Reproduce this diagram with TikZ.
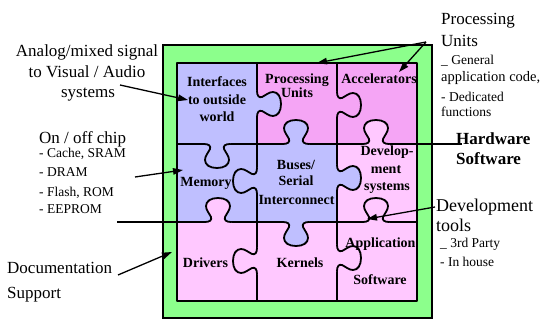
\documentclass[tikz,border=0pt]{standalone}
\usepackage{fontspec}
\setmainfont{Liberation Serif}
\usetikzlibrary{arrows.meta}
\definecolor{lav}{RGB}{191,191,255}
\definecolor{mag}{RGB}{245,165,245}
\definecolor{lpink}{RGB}{255,200,255}
\definecolor{grn}{RGB}{140,255,140}
\tikzset{
  gridline/.style={line width=1.8pt, line join=round},
  conn/.style={line width=1.3pt, -{Triangle[length=10pt,width=6.5pt]}},
  big/.style={inner sep=0pt, font=\fontsize{17}{20}\selectfont},
  bigger/.style={inner sep=0pt, font=\fontsize{18}{21}\selectfont},
  small/.style={inner sep=0pt, font=\fontsize{13.5}{16}\selectfont},
  bigbold/.style={inner sep=0pt, font=\fontsize{17}{20}\selectfont\bfseries},
  piece/.style={inner sep=0pt, anchor=base, font=\fontsize{14}{16}\selectfont\bfseries},
  pics/knob/.style={code={
    \fill[#1] (-13,-2) -- (-13,0) .. controls (-8,0) and (-6,2) .. (-7,5)
      .. controls (-9,9) and (-12,12) .. (-12,16)
      .. controls (-12,21) and (-7,24) .. (0,24)
      .. controls (7,24) and (12,21) .. (12,16)
      .. controls (12,12) and (9,9) .. (7,5)
      .. controls (6,2) and (8,0) .. (13,0) -- (13,-2) -- cycle;
    \draw[gridline] (-13,0) .. controls (-8,0) and (-6,2) .. (-7,5)
      .. controls (-9,9) and (-12,12) .. (-12,16)
      .. controls (-12,21) and (-7,24) .. (0,24)
      .. controls (7,24) and (12,21) .. (12,16)
      .. controls (12,12) and (9,9) .. (7,5)
      .. controls (6,2) and (8,0) .. (13,0);
  }}
}
\begin{document}
\begin{tikzpicture}[x=1pt,y=-1pt]
\useasboundingbox (0,0) rectangle (543,320);
% green board
\draw[fill=grn, line width=1.8pt] (163,45) rectangle (432,318);
% cells
\fill[lav] (177,63) rectangle (257,144);
\fill[mag] (257,63) rectangle (417,144);
\fill[lav] (177,144) rectangle (337,222);
\fill[lpink] (337,144) rectangle (417,222);
\fill[lpink] (177,222) rectangle (417,301);
% grid
\coordinate (hwL) at (117,222);
\coordinate (hwR) at (462,144);
\draw[gridline] (177,63) rectangle (417,301);
\draw[gridline] (257,63) -- (257,301);
\draw[gridline] (337,63) -- (337,301);
\draw[gridline] (hwL) -- (417,222);
\draw[gridline] (177,144) -- (hwR);
% knobs
\pic[rotate=90] at (257,104) {knob=lav};
\pic at (217,144) {knob=lav};
\pic[rotate=180] at (296,144) {knob=lav};
\pic[rotate=180] at (376,144) {knob=lpink};
\pic[rotate=90] at (337,105) {knob=mag};
\pic[rotate=-90] at (257,181) {knob=lav};
\pic[rotate=90] at (337,178) {knob=lav};
\pic[rotate=180] at (218,222) {knob=lpink};
\pic at (296,222) {knob=lav};
\pic[rotate=180] at (376,222) {knob=lpink};
\pic[rotate=-90] at (257,261) {knob=lpink};
\pic[rotate=90] at (337,258) {knob=lpink};
% piece labels
\node[piece] (p1a) at (217,87) {Interfaces};
\node[piece] (p1b) at (217,105) {to outside};
\node[piece] (p1c) at (217,122) {world};
\node[piece] (p2a) at (297,84) {Processing};
\node[piece] (p2b) at (297,98) {Units};
\node[piece] (p3) at (379,84) {Accelerators};
\node[piece] (p4) at (206,186.5) {Memory};
\node[piece] (p5a) at (296,169.5) {Buses/};
\node[piece] (p5b) at (296,186) {Serial};
\node[piece] (p5c) at (296.5,204.5) {Interconnect};
\node[piece] (p6a) at (387,156) {Develop-};
\node[piece] (p6b) at (386,174) {ment};
\node[piece] (p6c) at (387,191) {systems};
\node[piece] (p7) at (205.5,267.5) {Drivers};
\node[piece] (p8) at (300,267.5) {Kernels};
\node[piece] (p9a) at (380.5,247.5) {Application};
\node[piece] (p9b) at (380,284.5) {Software};
% left labels
\node[big, anchor=base] (an1) at (87,57) {Analog/mixed signal};
\node[big, anchor=base] (an2) at (87,78) {to Visual / Audio};
\node[big, anchor=base] (an3) at (88,98) {systems};
\node[big, anchor=base west] (mem0) at (39,144) {On / off chip};
\node[small, anchor=base west] (mem1) at (39,158) {- Cache, SRAM};
\node[small, anchor=base west] (mem2) at (39,177) {- DRAM};
\node[small, anchor=base west] (mem3) at (39,197) {- Flash, ROM};
\node[small, anchor=base west] (mem4) at (39,213.5) {- EEPROM};
\node[big, anchor=base west] (doc1) at (7,273.5) {Documentation};
\node[big, anchor=base west] (doc2) at (7,298) {Support};
% right labels
\node[big, anchor=base west] (pu1) at (441,25) {Processing};
\node[big, anchor=base west] (pu2) at (441,46.5) {Units};
\node[small, anchor=base west] (pu3) at (441,64.5) {\_ General};
\node[small, anchor=base west, font=\fontsize{14.5}{17}\selectfont] (pu4) at (441,82) {application code,};
\node[small, anchor=base west] (pu5) at (441,101.5) {- Dedicated};
\node[small, anchor=base west] (pu6) at (441,117) {functions};
\node[bigbold, anchor=base west] (hw) at (456,145) {Hardware};
\node[bigbold, anchor=base west] (sw) at (456,165) {Software};
\node[bigger, anchor=base west] (dt1) at (436,212) {Development};
\node[bigger, anchor=base west] (dt2) at (436,232) {tools};
\node[small, anchor=base west] (dt3) at (440,247.5) {\_ 3rd Party};
\node[small, anchor=base west] (dt4) at (440,266) {- In house};
% arrows
\coordinate (a1s) at (120,85);   \coordinate (a1e) at (188,100);
\coordinate (a2s) at (135,177);  \coordinate (a2e) at (183,170);
\coordinate (a3s) at (118,275);  \coordinate (a3e) at (172,252);
\coordinate (a4s) at (426,42);   \coordinate (a4e) at (317,63);
\coordinate (a5e) at (399,72);
\coordinate (a6s) at (435,207);  \coordinate (a6e) at (367,219);
\draw[conn] (a1s) -- (a1e);
\draw[conn] (a2s) -- (a2e);
\draw[conn] (a3s) -- (a3e);
\draw[conn] (a4s) -- (a4e);
\draw[conn] (a4s) -- (a5e);
\draw[conn] (a6s) -- (a6e);
\end{tikzpicture}
\end{document}
